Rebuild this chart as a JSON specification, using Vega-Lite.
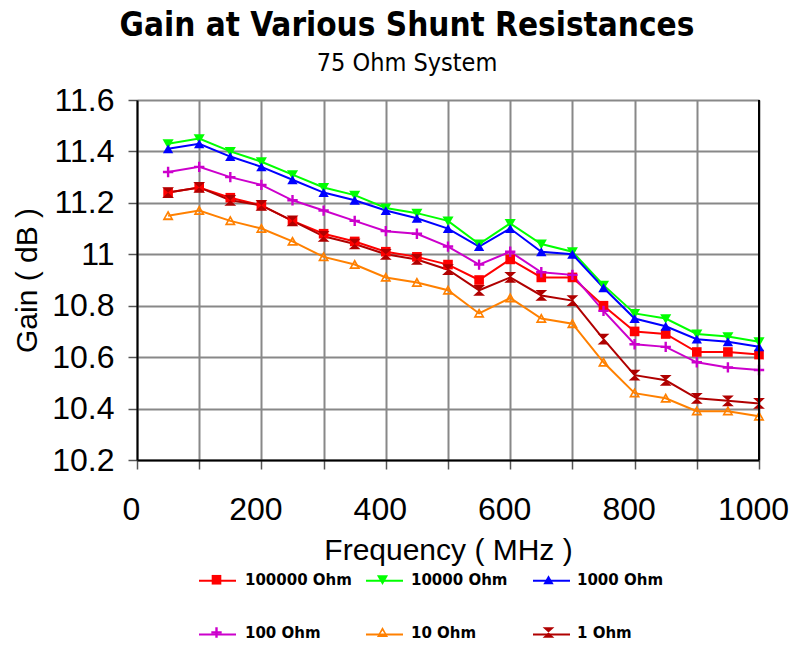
{
  "$schema": "https://vega.github.io/schema/vega-lite/v6.json",
  "width": 622,
  "height": 360,
  "autosize": "none",
  "padding": {"left": 137, "top": 100, "right": 32, "bottom": 185},
  "background": "white",
  "title": {
    "text": "Gain at Various Shunt Resistances",
    "subtitle": "75 Ohm System",
    "anchor": "middle",
    "dx": -41,
    "font": "DejaVu Sans Condensed, sans-serif",
    "fontSize": 33,
    "fontWeight": "bold",
    "color": "black",
    "subtitleFont": "DejaVu Sans Condensed, sans-serif",
    "subtitleFontSize": 25,
    "subtitleColor": "black",
    "subtitlePadding": 8,
    "offset": 8
  },
  "config": {
    "view": {"stroke": null},
    "axis": {
      "labelFont": "Liberation Sans",
      "labelFontSize": 32,
      "labelColor": "black",
      "titleFont": "Liberation Sans",
      "titleFontSize": 30,
      "titleFontWeight": "normal",
      "titleColor": "black",
      "gridColor": "#888888",
      "gridWidth": 2,
      "gridOpacity": 1,
      "domainColor": "black",
      "domainWidth": 2,
      "tickColor": "#555555",
      "tickWidth": 1.5,
      "tickSize": 9
    }
  },
  "data": {
    "values": [
      {"series": "100000 Ohm", "freq": 50, "gain": 11.24},
      {"series": "100000 Ohm", "freq": 100, "gain": 11.26},
      {"series": "100000 Ohm", "freq": 150, "gain": 11.22},
      {"series": "100000 Ohm", "freq": 200, "gain": 11.19},
      {"series": "100000 Ohm", "freq": 250, "gain": 11.13},
      {"series": "100000 Ohm", "freq": 300, "gain": 11.08},
      {"series": "100000 Ohm", "freq": 350, "gain": 11.05},
      {"series": "100000 Ohm", "freq": 400, "gain": 11.01},
      {"series": "100000 Ohm", "freq": 450, "gain": 10.99},
      {"series": "100000 Ohm", "freq": 500, "gain": 10.96},
      {"series": "100000 Ohm", "freq": 550, "gain": 10.9},
      {"series": "100000 Ohm", "freq": 600, "gain": 10.98},
      {"series": "100000 Ohm", "freq": 650, "gain": 10.91},
      {"series": "100000 Ohm", "freq": 700, "gain": 10.91},
      {"series": "100000 Ohm", "freq": 750, "gain": 10.8},
      {"series": "100000 Ohm", "freq": 800, "gain": 10.7},
      {"series": "100000 Ohm", "freq": 850, "gain": 10.69},
      {"series": "100000 Ohm", "freq": 900, "gain": 10.62},
      {"series": "100000 Ohm", "freq": 950, "gain": 10.62},
      {"series": "100000 Ohm", "freq": 1000, "gain": 10.61},
      {"series": "10000 Ohm", "freq": 50, "gain": 11.43},
      {"series": "10000 Ohm", "freq": 100, "gain": 11.45},
      {"series": "10000 Ohm", "freq": 150, "gain": 11.4},
      {"series": "10000 Ohm", "freq": 200, "gain": 11.36},
      {"series": "10000 Ohm", "freq": 250, "gain": 11.31},
      {"series": "10000 Ohm", "freq": 300, "gain": 11.26},
      {"series": "10000 Ohm", "freq": 350, "gain": 11.23},
      {"series": "10000 Ohm", "freq": 400, "gain": 11.18},
      {"series": "10000 Ohm", "freq": 450, "gain": 11.16},
      {"series": "10000 Ohm", "freq": 500, "gain": 11.13},
      {"series": "10000 Ohm", "freq": 550, "gain": 11.04},
      {"series": "10000 Ohm", "freq": 600, "gain": 11.12},
      {"series": "10000 Ohm", "freq": 650, "gain": 11.04},
      {"series": "10000 Ohm", "freq": 700, "gain": 11.01},
      {"series": "10000 Ohm", "freq": 750, "gain": 10.88},
      {"series": "10000 Ohm", "freq": 800, "gain": 10.77},
      {"series": "10000 Ohm", "freq": 850, "gain": 10.75},
      {"series": "10000 Ohm", "freq": 900, "gain": 10.69},
      {"series": "10000 Ohm", "freq": 950, "gain": 10.68},
      {"series": "10000 Ohm", "freq": 1000, "gain": 10.66},
      {"series": "1000 Ohm", "freq": 50, "gain": 11.41},
      {"series": "1000 Ohm", "freq": 100, "gain": 11.43},
      {"series": "1000 Ohm", "freq": 150, "gain": 11.38},
      {"series": "1000 Ohm", "freq": 200, "gain": 11.34},
      {"series": "1000 Ohm", "freq": 250, "gain": 11.29},
      {"series": "1000 Ohm", "freq": 300, "gain": 11.24},
      {"series": "1000 Ohm", "freq": 350, "gain": 11.21},
      {"series": "1000 Ohm", "freq": 400, "gain": 11.17},
      {"series": "1000 Ohm", "freq": 450, "gain": 11.14},
      {"series": "1000 Ohm", "freq": 500, "gain": 11.1},
      {"series": "1000 Ohm", "freq": 550, "gain": 11.03},
      {"series": "1000 Ohm", "freq": 600, "gain": 11.1},
      {"series": "1000 Ohm", "freq": 650, "gain": 11.01},
      {"series": "1000 Ohm", "freq": 700, "gain": 11.0},
      {"series": "1000 Ohm", "freq": 750, "gain": 10.87},
      {"series": "1000 Ohm", "freq": 800, "gain": 10.75},
      {"series": "1000 Ohm", "freq": 850, "gain": 10.72},
      {"series": "1000 Ohm", "freq": 900, "gain": 10.67},
      {"series": "1000 Ohm", "freq": 950, "gain": 10.66},
      {"series": "1000 Ohm", "freq": 1000, "gain": 10.64},
      {"series": "100 Ohm", "freq": 50, "gain": 11.32},
      {"series": "100 Ohm", "freq": 100, "gain": 11.34},
      {"series": "100 Ohm", "freq": 150, "gain": 11.3},
      {"series": "100 Ohm", "freq": 200, "gain": 11.27},
      {"series": "100 Ohm", "freq": 250, "gain": 11.21},
      {"series": "100 Ohm", "freq": 300, "gain": 11.17},
      {"series": "100 Ohm", "freq": 350, "gain": 11.13},
      {"series": "100 Ohm", "freq": 400, "gain": 11.09},
      {"series": "100 Ohm", "freq": 450, "gain": 11.08},
      {"series": "100 Ohm", "freq": 500, "gain": 11.03},
      {"series": "100 Ohm", "freq": 550, "gain": 10.96},
      {"series": "100 Ohm", "freq": 600, "gain": 11.01},
      {"series": "100 Ohm", "freq": 650, "gain": 10.93},
      {"series": "100 Ohm", "freq": 700, "gain": 10.92},
      {"series": "100 Ohm", "freq": 750, "gain": 10.78},
      {"series": "100 Ohm", "freq": 800, "gain": 10.65},
      {"series": "100 Ohm", "freq": 850, "gain": 10.64},
      {"series": "100 Ohm", "freq": 900, "gain": 10.58},
      {"series": "100 Ohm", "freq": 950, "gain": 10.56},
      {"series": "100 Ohm", "freq": 1000, "gain": 10.55},
      {"series": "10 Ohm", "freq": 50, "gain": 11.15},
      {"series": "10 Ohm", "freq": 100, "gain": 11.17},
      {"series": "10 Ohm", "freq": 150, "gain": 11.13},
      {"series": "10 Ohm", "freq": 200, "gain": 11.1},
      {"series": "10 Ohm", "freq": 250, "gain": 11.05},
      {"series": "10 Ohm", "freq": 300, "gain": 10.99},
      {"series": "10 Ohm", "freq": 350, "gain": 10.96},
      {"series": "10 Ohm", "freq": 400, "gain": 10.91},
      {"series": "10 Ohm", "freq": 450, "gain": 10.89},
      {"series": "10 Ohm", "freq": 500, "gain": 10.86},
      {"series": "10 Ohm", "freq": 550, "gain": 10.77},
      {"series": "10 Ohm", "freq": 600, "gain": 10.83},
      {"series": "10 Ohm", "freq": 650, "gain": 10.75},
      {"series": "10 Ohm", "freq": 700, "gain": 10.73},
      {"series": "10 Ohm", "freq": 750, "gain": 10.58},
      {"series": "10 Ohm", "freq": 800, "gain": 10.46},
      {"series": "10 Ohm", "freq": 850, "gain": 10.44},
      {"series": "10 Ohm", "freq": 900, "gain": 10.39},
      {"series": "10 Ohm", "freq": 950, "gain": 10.39},
      {"series": "10 Ohm", "freq": 1000, "gain": 10.37},
      {"series": "1 Ohm", "freq": 50, "gain": 11.24},
      {"series": "1 Ohm", "freq": 100, "gain": 11.26},
      {"series": "1 Ohm", "freq": 150, "gain": 11.21},
      {"series": "1 Ohm", "freq": 200, "gain": 11.19},
      {"series": "1 Ohm", "freq": 250, "gain": 11.13},
      {"series": "1 Ohm", "freq": 300, "gain": 11.07},
      {"series": "1 Ohm", "freq": 350, "gain": 11.04},
      {"series": "1 Ohm", "freq": 400, "gain": 11.0},
      {"series": "1 Ohm", "freq": 450, "gain": 10.98},
      {"series": "1 Ohm", "freq": 500, "gain": 10.94},
      {"series": "1 Ohm", "freq": 550, "gain": 10.86},
      {"series": "1 Ohm", "freq": 600, "gain": 10.91},
      {"series": "1 Ohm", "freq": 650, "gain": 10.84},
      {"series": "1 Ohm", "freq": 700, "gain": 10.82},
      {"series": "1 Ohm", "freq": 750, "gain": 10.67},
      {"series": "1 Ohm", "freq": 800, "gain": 10.53},
      {"series": "1 Ohm", "freq": 850, "gain": 10.51},
      {"series": "1 Ohm", "freq": 900, "gain": 10.44},
      {"series": "1 Ohm", "freq": 950, "gain": 10.43},
      {"series": "1 Ohm", "freq": 1000, "gain": 10.42}
    ]
  },
  "layer": [
    {
      "mark": {"type": "line", "strokeWidth": 2},
      "encoding": {
        "x": {
          "field": "freq",
          "type": "quantitative",
          "scale": {"domain": [0, 1000], "nice": false, "zero": false},
          "axis": {
            "title": "Frequency ( MHz )",
            "values": [0, 100, 200, 300, 400, 500, 600, 700, 800, 900, 1000],
            "format": "d",
            "labelExpr": "datum.value % 200 == 0 ? datum.label : ''",
            "labelFlush": false,
            "labelOffset": -6,
            "labelPadding": 25,
            "titlePadding": 10,
            "grid": true
          }
        },
        "y": {
          "field": "gain",
          "type": "quantitative",
          "scale": {"domain": [10.2, 11.6], "nice": false, "zero": false},
          "axis": {
            "title": "Gain ( dB )",
            "values": [10.2, 10.3, 10.4, 10.5, 10.6, 10.7, 10.8, 10.9, 11.0, 11.1, 11.2, 11.3, 11.4, 11.5, 11.6],
            "format": "~g",
            "labelExpr": "round(datum.value * 10) % 2 == 0 ? datum.label : ''",
            "labelPadding": 14,
            "titlePadding": 9,
            "grid": true
          }
        },
        "stroke": {
          "field": "series",
          "type": "nominal",
          "sort": ["100000 Ohm", "10000 Ohm", "1000 Ohm", "100 Ohm", "10 Ohm", "1 Ohm"],
          "scale": {
            "range": ["#FF0000", "#00FF00", "#0000FF", "#CC00CC", "#FF8000", "#B00000"]
          },
          "legend": {
            "orient": "none",
            "legendX": 61,
            "legendY": 461,
            "direction": "horizontal",
            "columns": 3,
            "title": null,
            "padding": 0,
            "symbolType": "stroke",
            "symbolSize": 1369,
            "symbolStrokeWidth": 2,
            "symbolOpacity": 1,
            "labelExpr": "''",
            "labelOffset": 0,
            "labelFontSize": 15,
            "columnPadding": 122,
            "rowPadding": 26,
            "gridAlign": "all"
          }
        }
      }
    },
    {
      "mark": {"type": "point", "filled": true, "size": 1369, "opacity": 1, "strokeWidth": 0},
      "encoding": {
        "x": {"field": "freq", "type": "quantitative"},
        "y": {"field": "gain", "type": "quantitative"},
        "color": {
          "field": "series",
          "type": "nominal",
          "scale": {
            "domain": ["100000 Ohm", "10000 Ohm", "1000 Ohm", "100 Ohm", "10 Ohm", "1 Ohm"],
            "range": ["#FF0000", "#00FF00", "#0000FF", "#CC00CC", "#FF8000", "#B00000"]
          },
          "legend": {
            "orient": "none",
            "legendX": 61,
            "legendY": 461,
            "direction": "horizontal",
            "columns": 3,
            "title": null,
            "padding": 0,
            "symbolSize": 1369,
            "symbolOpacity": 1,
            "symbolStrokeWidth": 0,
            "labelFont": "DejaVu Sans",
            "labelFontWeight": "bold",
            "labelFontSize": 15,
            "labelColor": "black",
            "labelOffset": 10,
            "labelLimit": 200,
            "columnPadding": 12,
            "rowPadding": 26,
            "gridAlign": "all"
          }
        },
        "shape": {
          "field": "series",
          "type": "nominal",
          "scale": {
            "domain": ["100000 Ohm", "10000 Ohm", "1000 Ohm", "100 Ohm", "10 Ohm", "1 Ohm"],
            "range": [
              "M-0.26,-0.26H0.26V0.26H-0.26Z",
              "M-0.3,-0.24H0.3L0,0.28Z",
              "M0,-0.24L0.28,0.24H-0.28Z",
              "M-0.28,-0.065H-0.065V-0.28H0.065V-0.065H0.28V0.065H0.065V0.28H-0.065V0.065H-0.28Z",
              "M0,-0.3L0.3,0.24H-0.3ZM0,-0.11L-0.15,0.14H0.15Z",
              "M-0.32,-0.29H0.32L-0.32,0.29H0.32Z"
            ]
          },
          "legend": {
            "orient": "none",
            "legendX": 61,
            "legendY": 461,
            "direction": "horizontal",
            "columns": 3,
            "title": null,
            "padding": 0,
            "symbolSize": 1369,
            "symbolOpacity": 1,
            "symbolStrokeWidth": 0,
            "labelFont": "DejaVu Sans",
            "labelFontWeight": "bold",
            "labelFontSize": 15,
            "labelColor": "black",
            "labelOffset": 10,
            "labelLimit": 200,
            "columnPadding": 12,
            "rowPadding": 26,
            "gridAlign": "all"
          }
        }
      }
    },
    {
      "mark": {"type": "rule", "color": "black", "strokeWidth": 2},
      "encoding": {"x": {"datum": 1000}}
    }
  ]
}
